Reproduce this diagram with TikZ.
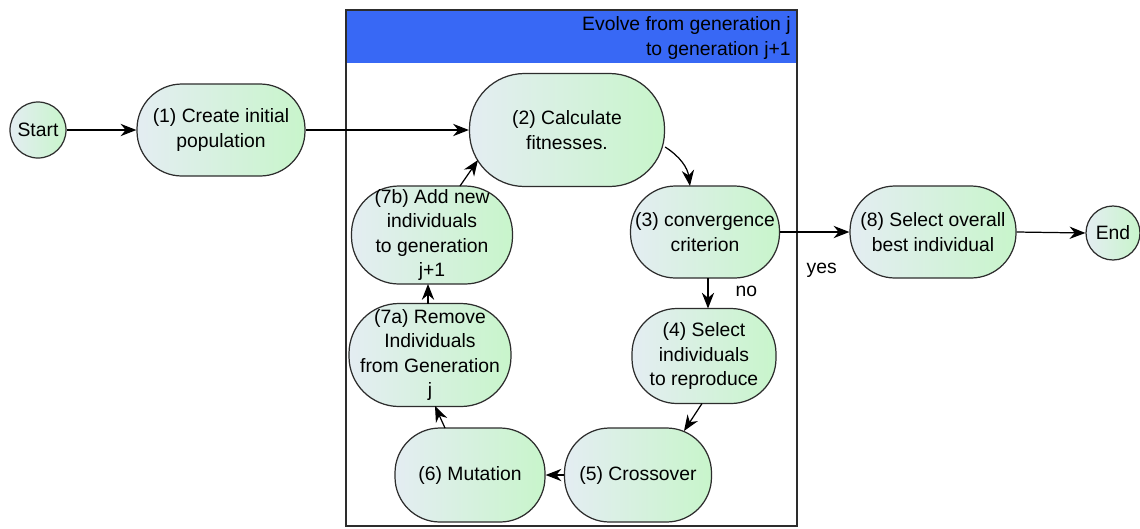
\documentclass[tikz,border=0pt]{standalone}
\usepackage{fontspec}
\setmainfont{Liberation Sans}
\usetikzlibrary{arrows.meta}
\definecolor{headblue}{RGB}{56,104,245}
\definecolor{gradL}{RGB}{228,237,242}
\definecolor{gradR}{RGB}{200,245,203}
\definecolor{edge}{RGB}{45,45,45}
\tikzset{
  stage/.style={draw=edge, line width=0.7pt, rounded corners=0.9cm, left color=gradL, right color=gradR,
    align=center, inner sep=1pt, font=\fontsize{11}{14}\selectfont},
  terminal/.style={draw=edge, line width=0.7pt, circle, left color=gradL, right color=gradR,
    inner sep=0pt, font=\fontsize{11}{14}\selectfont},
  flow/.style={-{Stealth[length=9pt,width=7pt]}, line width=0.7pt, draw=black}
}
\begin{document}
\begin{tikzpicture}
  \useasboundingbox (0,0) rectangle (22.8,-10.56);
  % container
  \fill[white] (6.92,-0.2) rectangle (15.94,-10.52);
  \fill[headblue] (6.92,-0.2) rectangle (15.94,-1.26);
  \draw[edge, line width=0.8pt] (6.92,-0.2) rectangle (15.94,-10.52);
  \node[align=right, anchor=north east, inner sep=0pt, font=\fontsize{11}{14}\selectfont] (head) at (15.82,-0.33) {Evolve from generation j\\to generation j+1};

  \node[terminal, minimum size=1.12cm] (start) at (0.76,-2.6) {Start};
  \node[stage, minimum width=3.36cm, minimum height=1.84cm] (create) at (4.42,-2.6) {(1) Create initial\\population};
  \node[stage, rounded corners=1.1cm, minimum width=3.9cm, minimum height=2.26cm] (fit) at (11.34,-2.6) {(2) Calculate\\fitnesses.};
  \node[stage, minimum width=2.98cm, minimum height=1.84cm] (conv) at (14.1,-4.64) {(3) convergence\\criterion};
  \node[stage, minimum width=3.32cm, minimum height=1.84cm] (best) at (18.66,-4.64) {(8) Select overall\\best individual};
  \node[terminal, minimum size=1.08cm] (end) at (22.26,-4.66) {End};
  \node[stage, minimum width=2.88cm, minimum height=1.9cm] (select) at (14.08,-7.12) {(4) Select\\individuals\\to reproduce};
  \node[stage, minimum width=2.94cm, minimum height=1.88cm] (cross) at (12.76,-9.5) {(5) Crossover};
  \node[stage, minimum width=3.0cm, minimum height=1.88cm] (mut) at (9.4,-9.5) {(6) Mutation};
  \node[stage, rounded corners=1.0cm, minimum width=3.24cm, minimum height=2.06cm] (remove) at (8.6,-7.1) {(7a) Remove\\Individuals\\from Generation\\j};
  \node[stage, rounded corners=0.95cm, minimum width=3.22cm, minimum height=1.96cm] (add) at (8.64,-4.7) {(7b) Add new\\individuals\\to generation\\j+1};

  \draw[flow] (start) -- (create);
  \draw[flow] (create.east) -- (fit.west);
  \draw[flow] ([yshift=-0.34cm]fit.east) to[bend left=25] (13.8,-3.72);
  \draw[flow] (conv.east) -- (best.west) node[pos=0.6, below=14pt, font=\fontsize{11}{14}\selectfont] (yes) {yes};
  \draw[flow] (best.east) -- (end.west);
  \draw[flow] (14.16,-5.56) -- (14.16,-6.17) node[pos=0.45, right=12pt, font=\fontsize{11}{14}\selectfont] (no) {no};
  \draw[flow] (14.04,-8.07) -- (13.68,-8.62);
  \draw[flow] (cross) -- (mut);
  \draw[flow] (8.9,-8.56) -- (8.7,-8.12);
  \draw[flow] (8.56,-6.07) -- (8.56,-5.68);
  \draw[flow] (9.2,-3.72) -- (9.56,-3.2);
\end{tikzpicture}
\end{document}
